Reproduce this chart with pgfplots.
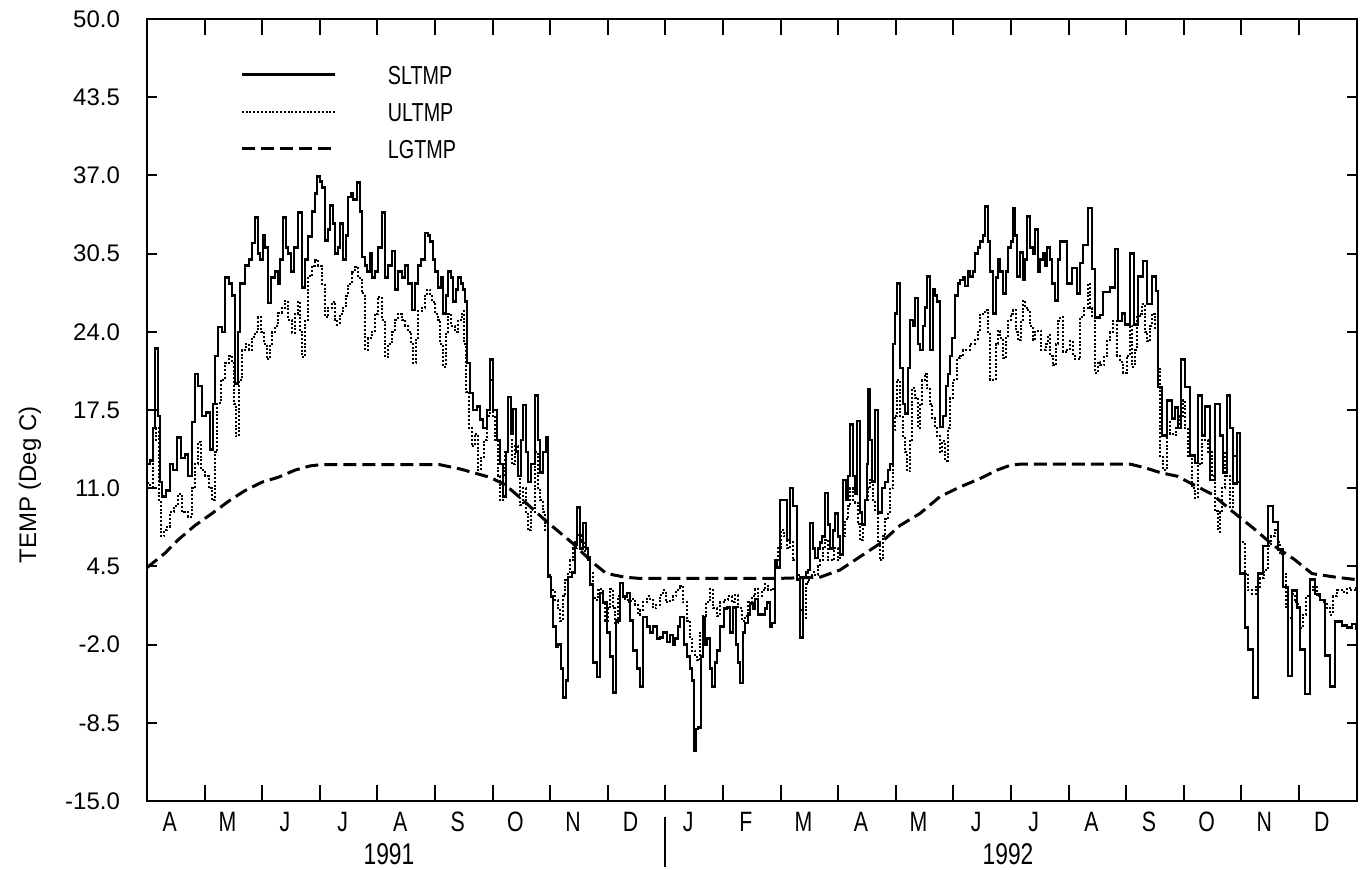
\documentclass[border=0pt]{standalone}
\usepackage{fontspec}
\setmainfont{Liberation Sans}
\newfontfamily\condfont{Liberation Sans}[FakeStretch=0.76]
\usepackage{pgfplots}
\pgfplotsset{compat=1.18}
\usepackage{pgfplotstable}

% x = horizontal position (axis starts 1 Apr 1991 at 147, one month = 57.6)
\pgfplotstableread{
x y
147 13.0
150 13.3
153 16.0
155 22.6
158 17.0
160 11.5
162 10.3
166 10.8
170 13.0
173 12.5
177 15.2
181 13.5
185 13.8
188 12.0
192 16.5
195 20.5
198 19.5
202 17.0
206 17.3
210 14.2
213 18.0
215 22.0
218 24.4
222 24.0
225 28.5
229 28.0
232 27.0
235 19.7
238 24.0
240 28.0
245 29.5
249 30.0
252 31.4
255 33.5
258 30.5
260 30.0
263 32.0
265 31.0
268 26.4
271 28.5
275 29.0
278 28.0
280 30.0
283 33.5
286 31.0
288 30.5
291 29.0
294 31.0
298 33.9
302 27.7
305 30.0
308 31.9
312 34.0
315 35.5
317 36.9
320 36.5
322 36.0
325 31.6
328 32.5
330 34.5
333 33.0
335 30.5
338 31.0
340 33.0
343 30.0
346 32.0
348 35.2
351 35.5
353 35.0
357 36.4
360 34.0
362 30.2
365 29.5
367 29.0
370 30.5
372 28.5
375 29.0
378 31.0
382 33.9
385 28.5
388 29.5
392 30.7
395 27.5
398 29.0
402 28.5
405 29.5
408 28.0
412 25.8
415 28.0
418 29.5
421 30.0
425 32.2
428 32.0
430 31.5
433 30.0
435 29.0
438 27.7
441 28.5
443 25.5
446 27.0
448 29.0
451 28.5
453 26.5
456 27.5
458 28.5
461 28.0
463 27.5
465 26.5
467 21.4
470 18.9
473 17.5
477 17.8
480 16.7
483 16.0
487 17.5
490 21.7
493 17.5
497 15.0
500 13.0
503 10.3
506 14.0
508 18.6
511 15.5
513 17.6
516 14.0
518 12.0
521 15.0
523 17.9
526 14.0
528 11.5
531 13.0
535 18.7
538 15.0
540 12.3
543 14.0
546 15.2
548 3.6
551 2.0
553 -0.5
556 -2.2
558 -2.0
561 -4.0
563 -6.4
566 -5.0
568 3.6
572 4.0
575 6.5
577 9.4
580 6.0
583 8.1
586 6.0
588 5.3
590 3.0
593 -3.5
597 -4.7
600 2.3
603 1.5
607 -1.0
610 -3.0
613 -6.0
616 0.0
620 3.1
623 2.0
627 2.3
630 0.0
633 -2.5
637 -4.0
640 -5.5
643 0.3
647 -0.5
650 -1.0
653 -0.5
657 -1.5
660 -1.4
663 -1.0
667 -1.8
670 -1.2
673 -2.0
675 -1.5
678 -0.5
680 0.3
684 -2.0
687 -3.0
690 -4.0
692 -5.0
694 -10.8
696 -9.0
698 -8.9
701 -3.0
703 0.3
705 -2.0
707 -1.5
710 -4.0
712 -5.5
715 -3.5
717 -2.5
720 -0.5
724 1.0
727 1.1
730 -1.0
733 1.1
736 -2.0
738 -3.5
740 -5.2
743 -1.0
745 -0.2
748 0.5
750 1.4
753 1.0
755 1.8
758 0.5
762 0.5
765 1.0
767 1.5
770 -0.5
772 -0.2
775 5.0
777 4.4
780 10.0
783 10.0
787 6.7
790 11.0
793 9.5
797 3.4
800 -1.4
803 3.6
806 4.0
808 4.2
810 8.1
813 6.0
815 5.2
818 6.0
820 6.5
822 7.0
825 10.6
828 8.0
830 6.0
833 7.5
835 8.9
838 7.0
840 5.5
843 11.7
846 10.0
848 12.0
850 16.3
853 12.0
855 10.5
857 16.6
860 9.0
862 8.0
865 10.0
867 13.0
868 19.2
870 15.0
872 11.5
875 17.5
878 9.0
882 11.0
885 11.5
888 12.5
890 13.0
893 23.0
895 25.5
897 28.0
900 21.0
903 18.0
905 17.2
908 21.0
910 25.0
913 24.5
915 26.8
918 23.0
920 22.5
923 24.5
925 26.0
927 28.6
930 22.5
933 27.5
935 27.0
937 26.5
940 16.1
943 17.0
946 19.5
948 20.5
950 22.0
952 23.5
955 27.0
958 28.0
960 28.3
963 28.5
965 27.8
968 29.0
970 28.6
973 29.0
975 30.5
978 31.0
980 31.5
983 32.0
985 34.4
988 31.5
990 29.0
993 25.5
996 28.5
998 30.0
1000 29.0
1003 27.2
1006 29.0
1008 31.0
1011 31.5
1013 34.3
1015 32.0
1017 28.6
1020 30.6
1023 28.3
1025 30.0
1027 33.6
1030 31.0
1033 30.5
1035 32.5
1038 29.0
1040 30.0
1043 30.5
1045 29.5
1047 31.0
1050 30.0
1052 28.0
1055 26.6
1058 30.0
1060 31.5
1063 31.5
1067 28.0
1072 29.3
1077 27.2
1080 29.7
1083 31.2
1088 34.3
1092 29.2
1095 25.2
1100 25.4
1103 27.3
1110 27.7
1115 30.9
1118 24.9
1122 25.5
1125 24.6
1130 30.5
1134 24.6
1138 28.6
1143 29.9
1147 26.3
1152 28.6
1156 27.4
1158 19.4
1162 15.4
1167 18.3
1172 16.8
1175 17.7
1178 16.0
1181 21.7
1185 19.4
1190 13.7
1195 13.1
1198 18.7
1202 15.4
1205 17.8
1210 11.7
1215 18.0
1220 15.4
1223 12.3
1227 18.7
1230 16.0
1233 11.4
1237 15.6
1240 3.9
1245 -0.6
1248 -2.4
1253 -6.4
1258 3.9
1263 6.2
1268 9.5
1273 8.2
1278 5.9
1283 2.8
1288 -4.6
1292 2.5
1297 1.1
1300 -2.4
1305 -6.1
1310 3.4
1315 2.2
1320 1.7
1325 -2.9
1330 -5.5
1335 -0.1
1342 -0.4
1347 -0.6
1352 -0.3
1356 -0.8
}\sltmp

\pgfplotstableread{
x y
147 11.4
150 11.0
153 15.0
156 16.0
159 10.0
161 7.0
164 7.5
167 7.8
170 9.0
174 9.5
178 10.5
182 9.0
185 9.0
188 8.6
192 11.0
195 13.0
198 14.8
201 12.5
205 12.0
209 11.0
212 10.0
215 14.0
217 18.1
221 20.0
225 21.4
229 22.0
232 21.4
234 18.0
236 15.3
239 20.0
242 22.5
246 23.0
249 22.5
252 23.6
255 24.0
258 25.2
261 24.0
264 23.0
267 21.7
270 23.0
272 24.0
275 24.5
278 25.6
282 26.0
285 26.6
288 25.0
292 23.9
295 25.5
298 26.5
300 24.0
302 21.9
305 25.0
308 28.6
312 29.5
315 30.0
318 29.5
322 28.0
325 25.2
328 26.0
332 26.5
335 25.0
337 24.6
340 25.5
343 26.0
346 27.0
348 28.0
352 29.0
355 29.4
358 28.5
362 27.2
365 22.5
368 23.5
372 24.0
375 25.5
378 26.9
382 25.0
385 21.9
388 23.0
392 24.0
395 25.0
398 25.5
402 25.0
405 24.5
408 24.0
411 23.0
413 21.4
416 23.5
418 25.7
422 26.0
425 27.0
427 27.5
430 27.0
432 26.5
435 25.5
438 25.0
440 23.0
443 21.1
446 24.0
448 25.5
451 24.5
455 24.0
458 25.0
462 25.7
464 23.0
466 19.0
469 16.0
472 14.5
475 15.5
478 12.5
481 13.5
484 15.0
487 17.0
490 20.0
493 17.0
495 15.0
498 12.0
500 10.0
503 12.0
505 14.0
508 15.0
512 13.0
515 14.5
518 12.0
520 9.6
523 11.0
526 9.0
528 7.5
531 9.0
535 14.0
538 11.0
540 10.0
543 9.0
545 7.5
548 3.8
551 2.5
555 1.7
558 1.0
560 0.0
563 2.0
565 3.4
568 4.0
570 5.0
573 6.0
577 7.1
581 6.5
585 5.8
588 5.0
590 4.0
593 2.0
595 1.7
598 2.5
600 2.6
603 1.5
605 0.0
608 1.0
610 2.6
613 1.0
615 -0.2
618 2.0
620 2.6
623 2.0
625 1.7
628 1.5
631 1.8
635 1.3
638 0.5
640 0.9
643 1.5
647 2.0
650 1.7
653 1.0
656 1.3
660 2.1
663 2.5
666 1.5
670 1.7
673 2.0
676 2.5
680 2.9
683 1.5
687 0.0
690 -1.5
692 -2.5
695 -3.0
697 -3.3
700 -1.0
703 0.4
706 1.5
710 2.6
713 1.0
717 0.4
720 1.5
725 1.7
728 2.0
732 1.5
735 2.1
738 1.0
742 0.0
745 0.4
748 1.5
752 2.0
755 2.6
758 2.0
762 2.5
765 3.0
768 2.5
772 2.6
775 5.0
778 6.0
781 7.5
784 7.0
787 6.0
790 6.5
793 5.0
797 3.8
800 0.9
803 0.1
806 3.0
808 3.4
812 4.0
815 3.8
818 4.5
820 5.0
823 6.0
825 6.7
828 5.0
830 5.0
834 6.0
838 5.0
840 6.2
843 7.0
845 8.4
848 9.5
850 11.0
853 10.0
855 9.8
858 8.0
860 6.7
863 8.0
865 10.0
868 11.0
870 11.7
873 10.0
875 9.2
878 6.5
880 5.0
883 7.0
885 8.4
888 9.0
890 11.0
893 15.8
895 17.0
897 20.0
900 17.0
903 15.3
905 14.0
907 12.4
910 15.0
912 19.3
915 18.5
918 16.0
920 18.0
922 20.0
925 20.5
927 19.3
930 18.0
932 16.8
935 16.0
937 15.3
940 14.0
942 14.9
945 13.3
948 16.0
950 18.5
953 20.0
957 21.8
960 22.0
963 22.5
965 22.5
970 23.0
975 23.3
978 24.0
980 25.4
983 25.5
985 25.8
988 24.0
990 20.0
993 20.0
996 23.0
998 24.1
1000 23.5
1003 21.8
1006 23.5
1008 25.0
1011 25.5
1013 25.8
1016 24.0
1018 23.3
1021 25.0
1023 26.6
1025 26.0
1027 25.8
1030 24.5
1033 23.3
1035 24.0
1038 24.1
1041 22.5
1043 22.5
1046 23.0
1048 23.7
1050 22.0
1053 21.2
1056 23.0
1058 24.9
1060 25.2
1063 22.3
1067 22.5
1070 23.2
1073 22.0
1075 21.7
1080 25.2
1084 26.0
1088 28.0
1090 26.0
1092 25.2
1095 20.6
1098 21.5
1100 21.2
1104 22.0
1107 23.2
1110 24.0
1113 24.9
1117 22.0
1120 21.5
1123 20.6
1127 22.0
1130 24.5
1132 21.1
1135 22.5
1137 25.2
1140 25.5
1142 26.3
1145 24.0
1147 23.2
1150 24.5
1152 25.5
1155 24.3
1158 21.1
1160 13.7
1163 12.5
1167 16.5
1170 15.5
1173 15.4
1176 16.0
1180 17.0
1183 18.3
1185 16.0
1188 13.7
1192 11.0
1195 10.2
1198 13.0
1202 16.0
1205 15.0
1208 14.0
1212 12.0
1215 9.1
1218 7.4
1220 9.0
1222 11.0
1225 14.0
1227 12.0
1230 9.4
1233 13.7
1237 11.5
1240 6.5
1245 3.9
1248 2.5
1252 2.2
1256 2.8
1260 3.5
1264 4.2
1268 6.2
1271 7.0
1275 7.5
1278 6.5
1280 5.5
1283 3.9
1286 1.0
1288 0.2
1292 2.2
1295 1.5
1298 1.0
1300 -0.6
1303 0.5
1306 2.0
1310 2.5
1313 2.8
1317 2.0
1320 1.7
1323 1.5
1327 1.0
1330 0.5
1333 2.0
1337 2.5
1340 2.5
1344 2.3
1347 2.7
1351 2.5
1356 2.8
}\ultmp

\pgfplotstableread{
x y
147 4.4
165 5.6
178 6.7
195 7.9
212 8.9
230 10.0
245 10.8
262 11.5
278 11.9
295 12.5
310 12.85
320 12.95
440 12.95
460 12.6
473 12.3
490 11.9
505 11.3
523 10.0
547 8.2
573 6.4
593 4.8
605 4.0
613 3.8
625 3.6
640 3.5
778 3.5
820 3.6
840 4.2
860 5.3
880 6.4
900 7.9
920 8.9
940 10.3
960 11.1
980 11.8
997 12.5
1010 12.9
1020 13.0
1130 13.0
1145 12.7
1160 12.3
1177 12.0
1191 11.4
1212 10.5
1232 9.1
1253 7.7
1274 6.2
1294 5.1
1312 3.9
1336 3.6
1356 3.4
}\lgtmp

\begin{document}
\begin{tikzpicture}
\begin{axis}[
  name=ax,
  scale only axis,
  width=604.8pt, height=391pt,
  xmin=147, xmax=1356.6,
  ymin=-15, ymax=50,
  axis line style={line width=1.1pt},
  tick style={line width=1pt, black},
  tick align=inside,
  major tick length=5pt,
  xtick=\empty,
  extra x ticks={147,204.6,...,1300},
  extra x tick labels={A,M,J,J,A,S,O,N,D,J,F,M,A,M,J,J,A,S,O,N,D},
  extra x tick style={major tick length=8pt,
    tick label style={font=\condfont\fontsize{14}{14}\selectfont, xshift=11.4pt, yshift=-2pt}},
  ytick={-15,-8.5,-2,4.5,11,17.5,24,30.5,37,43.5,50},
  yticklabel style={font=\fontsize{12}{12}\selectfont, xshift=-10pt},
  /pgf/number format/.cd, fixed, fixed zerofill, precision=1, assume math mode=true,
  /pgfplots/.cd,
  legend image code/.code={\draw[#1] (0pt,0pt) -- (46.5pt,0pt); \path[draw=none] (46.5pt,0pt) -- (73pt,0pt);},
  legend cell align=left,
  legend style={at={(axis cs:240,46.2)}, anchor=north west, draw=none, fill=none,
    inner sep=0pt, row sep=9pt,
    nodes={inner sep=0pt, text height=9.5pt, text depth=0pt},
    font=\condfont\fontsize{13}{13}\selectfont},
]
\addplot[const plot, black, line width=1.25pt] table {\sltmp};
\addlegendentry{SLTMP}
\addplot[const plot, black, line width=1pt, dash pattern=on 1pt off 0.9pt] table {\ultmp};
\addlegendentry{ULTMP}
\addplot[black, line width=1.5pt, dash pattern=on 6.5pt off 3pt] table {\lgtmp};
\addlegendentry{LGTMP}
\end{axis}
\node[rotate=90, font=\fontsize{12}{12}\selectfont] at ([shift={(-58.5pt,158pt)}]ax.south west) {TEMP (Deg C)};
\node[font=\condfont\fontsize{15}{15}\selectfont] at ([shift={(121pt,-26.5pt)}]ax.south west) {1991};
\node[font=\condfont\fontsize{15}{15}\selectfont] at ([shift={(430.5pt,-26.5pt)}]ax.south west) {1992};
\draw[line width=1pt] ([shift={(259.2pt,-8pt)}]ax.south west) -- ([shift={(259.2pt,-33pt)}]ax.south west);
\pgfresetboundingbox
\path[use as bounding box] ([shift={(-73.5pt,-34.5pt)}]ax.south west) rectangle ([shift={(609pt,400.5pt)}]ax.south west);
\end{tikzpicture}
\end{document}
